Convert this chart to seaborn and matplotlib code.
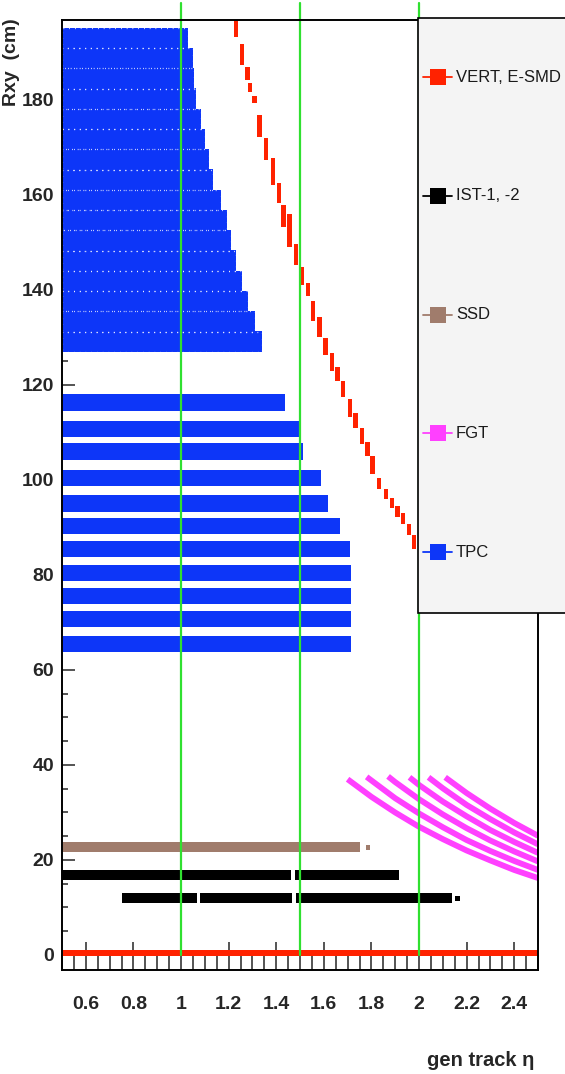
import matplotlib
matplotlib.use("Agg")
import matplotlib.pyplot as plt
import matplotlib.ticker as mticker
from matplotlib.lines import Line2D
from matplotlib.patches import Rectangle
import numpy as np
import pandas as pd
import seaborn as sns

# ---------------- data ----------------
eta_min = 0.5

# TPC outer padrows: radius centre and eta reach
tpc_outer_r = [129.13, 133.39, 137.66, 141.92, 146.18, 150.44, 154.71, 158.97,
               163.23, 167.49, 171.76, 176.02, 180.28, 184.54, 188.81, 193.07]
tpc_outer_eta_max = [1.341, 1.31, 1.28, 1.255, 1.232, 1.21, 1.195, 1.17,
                     1.135, 1.118, 1.10, 1.085, 1.065, 1.055, 1.05, 1.03]
# TPC inner padrows
tpc_inner_r = [116.3, 110.7, 106.0, 100.35, 95.05, 90.35, 85.45, 80.5, 75.6, 70.7, 65.45]
tpc_inner_eta_max = [1.435, 1.498, 1.512, 1.589, 1.617, 1.666, 1.708, 1.715, 1.715, 1.715, 1.715]

# E-SMD hits (eta, R low, R high)
esmd_eta = [1.232, 1.257, 1.280, 1.291, 1.309, 1.330, 1.358, 1.386, 1.411, 1.431, 1.456,
            1.484, 1.509, 1.533, 1.554, 1.582, 1.607, 1.635, 1.658, 1.682, 1.710, 1.733,
            1.761, 1.784, 1.805, 1.833, 1.861, 1.886, 1.910, 1.934, 1.959, 1.980]
esmd_rlo = [193.3, 187.3, 184.3, 181.7, 179.4, 172.3, 167.4, 162.1, 158.3, 153.2, 149.0,
            145.3, 141.0, 138.7, 133.5, 130.1, 126.4, 123.0, 120.8, 117.4, 113.3, 110.9,
            107.6, 105.0, 101.2, 98.2, 96.0, 94.1, 92.2, 90.7, 88.4, 85.5]
esmd_rhi = [196.9, 191.8, 186.9, 183.5, 180.9, 176.8, 171.9, 167.8, 162.5, 157.8, 156.0,
            149.7, 144.8, 141.5, 137.7, 134.3, 129.8, 126.8, 123.8, 120.8, 117.0, 114.0,
            110.9, 108.0, 105.0, 100.4, 98.2, 96.3, 94.5, 93.0, 90.7, 88.4]

# vertex hits at R ~ 0
vert_eta = [0.5, 2.5]
vert_r = [0.35, 0.35]

# SSD band
ssd_eta = [0.5, 1.75]
ssd_r = 22.8
ssd_dot = (1.785, 22.6)

# IST bands (segments)
ist2_segments = [(0.50, 1.463), (1.478, 1.917)]
ist2_r = 16.85
ist1_segments = [(0.75, 1.066), (1.080, 1.468), (1.484, 2.140)]
ist1_r = 11.95
ist1_dot = (2.162, 11.9)

# FGT disk stripes: (eta, R) samples
fgt_stripes = {
    1: ([1.70, 1.80, 1.90, 2.00, 2.10, 2.20, 2.30, 2.40, 2.50],
        [37.0, 33.3, 30.0, 27.0, 24.4, 22.0, 19.9, 17.9, 16.2]),
    2: ([1.78, 1.90, 2.00, 2.10, 2.20, 2.30, 2.40, 2.50],
        [37.5, 33.0, 29.8, 26.9, 24.2, 21.9, 19.8, 17.9]),
    3: ([1.87, 1.90, 2.00, 2.10, 2.20, 2.30, 2.40, 2.50],
        [37.6, 36.4, 32.8, 29.6, 26.7, 24.1, 21.8, 19.7]),
    4: ([1.96, 2.00, 2.10, 2.20, 2.30, 2.40, 2.50],
        [37.4, 35.8, 32.3, 29.2, 26.3, 23.8, 21.5]),
    5: ([2.04, 2.10, 2.20, 2.30, 2.40, 2.50],
        [37.4, 35.1, 31.6, 28.6, 25.8, 23.3]),
    6: ([2.11, 2.20, 2.30, 2.40, 2.50],
        [37.4, 34.1, 30.8, 27.8, 25.1]),
}

# guide lines
green_eta = [1.0, 1.5, 2.0]

# axis ticks
x_major = [0.6, 0.8, 1.0, 1.2, 1.4, 1.6, 1.8, 2.0, 2.2, 2.4]
x_labels = ["0.6", "0.8", "1", "1.2", "1.4", "1.6", "1.8", "2", "2.2", "2.4"]
y_major = [0, 20, 40, 60, 80, 100, 120, 140, 160, 180]
y_labels = [str(v) for v in y_major]

legend_labels = ["VERT, E-SMD", "IST-1, -2", "SSD", "FGT", "TPC"]

# colours
c_red = "#ff2200"
c_black = "#000000"
c_brown = "#a07c6c"
c_mag = "#ff40ff"
c_blue = "#0d36f8"
c_green = "#30e030"
legend_colors = [c_red, c_black, c_brown, c_mag, c_blue]

# ---------------- figure ----------------
sns.set_theme(style="ticks")
plt.rcParams["font.family"] = ["Liberation Sans", "DejaVu Sans"]

W, H = 565, 1074
fig = plt.figure(figsize=(W / 100, H / 100), dpi=100)
ax = fig.add_axes([62 / W, 1 - 970 / H, 476 / W, 950 / H])
ax.set_xlim(0.5, 2.5)
ax.set_ylim(-3.16, 196.84)

# TPC
ax.barh(tpc_outer_r, [m - eta_min for m in tpc_outer_eta_max], left=eta_min,
        height=4.3, color=c_blue, linewidth=0, zorder=2)
ax.barh(tpc_outer_r, [m - eta_min for m in tpc_outer_eta_max], left=eta_min,
        height=4.26, fill=False, edgecolor="white", linewidth=0.9,
        linestyle=(0, (0.6, 4)), zorder=2.1)
ax.barh(tpc_inner_r, [m - eta_min for m in tpc_inner_eta_max], left=eta_min,
        height=3.4, color=c_blue, linewidth=0, zorder=2)

# E-SMD
ax.bar(esmd_eta, [h - l for h, l in zip(esmd_rhi, esmd_rlo)], bottom=esmd_rlo,
       width=0.018, color=c_red, linewidth=0, zorder=3)

# vertex
ax.barh([vert_r[0]], [vert_eta[1] - vert_eta[0]], left=vert_eta[0], height=1.2,
        color=c_red, linewidth=0, zorder=3)

# SSD
ax.barh([ssd_r], [ssd_eta[1] - ssd_eta[0]], left=ssd_eta[0], height=2.1,
        color=c_brown, linewidth=0, zorder=3)

# IST
for lo, hi in ist2_segments:
    ax.barh([ist2_r], [hi - lo], left=lo, height=2.0, color=c_black, linewidth=0, zorder=3)
for lo, hi in ist1_segments:
    ax.barh([ist1_r], [hi - lo], left=lo, height=2.0, color=c_black, linewidth=0, zorder=3)

dots = pd.DataFrame({"eta": [ssd_dot[0], ist1_dot[0]],
                     "R": [ssd_dot[1], ist1_dot[1]],
                     "det": ["SSD", "IST"]})
sns.scatterplot(data=dots, x="eta", y="R", hue="det",
                palette={"SSD": c_brown, "IST": c_black}, marker="s", s=10,
                linewidth=0, legend=False, ax=ax, zorder=3)

# FGT
fgt_df = pd.concat([pd.DataFrame({"eta": e, "R": r, "disk": k})
                    for k, (e, r) in fgt_stripes.items()], ignore_index=True)
sns.lineplot(data=fgt_df, x="eta", y="R", units="disk", estimator=None,
             sort=False, color=c_mag, lw=4.2, ax=ax, zorder=3, legend=False,
             solid_capstyle="butt")

# green guide lines
for g in green_eta:
    ax.plot([g, g], [0, 200.4], color=c_green, lw=1.6, clip_on=False, zorder=5)

# axes styling
for s in ax.spines.values():
    s.set_linewidth(1.4)
    s.set_color("black")
    s.set_zorder(6)
ax.set_xticks(x_major)
ax.set_xticklabels(x_labels)
ax.set_yticks(y_major)
ax.set_yticklabels(y_labels)
ax.xaxis.set_minor_locator(mticker.MultipleLocator(0.05))
ax.yaxis.set_minor_locator(mticker.MultipleLocator(5))
ax.tick_params(axis="x", which="major", direction="in", length=20, width=1.1,
               pad=19, labelsize=14, top=False, bottom=True)
ax.tick_params(axis="x", which="minor", direction="in", length=10.5, width=1.1,
               top=False, bottom=True)
ax.tick_params(axis="y", which="major", direction="in", length=9, width=1.1,
               pad=5.5, labelsize=14, left=True, right=False)
ax.tick_params(axis="y", which="minor", direction="in", length=4.5, width=1.1,
               left=True, right=False)
for lab in ax.get_xticklabels() + ax.get_yticklabels():
    lab.set_fontweight("bold")

ax.set_xlabel("gen track η", fontsize=14.5, fontweight="bold")
ax.xaxis.set_label_coords((534 - 62) / 476, -(1061 - 970) / 950)
ax.xaxis.label.set_ha("right")
ax.xaxis.label.set_va("center")

ax.set_ylabel("Rxy  (cm)", fontsize=14, fontweight="bold")
ax.yaxis.set_label_coords((12 - 62) / 476, 1.002)
ax.yaxis.label.set_rotation_mode("anchor")
ax.yaxis.label.set_ha("right")
ax.yaxis.label.set_va("center")

# legend box (ROOT style)
fig.add_artist(Rectangle((418 / W, 1 - 613 / H), (W - 418) / W + 0.02, (613 - 18) / H,
                         transform=fig.transFigure, facecolor="#f4f4f4",
                         edgecolor="black", lw=1.2, zorder=10))
for i, (lab, col) in enumerate(zip(legend_labels, legend_colors)):
    yp = 1 - (77 + i * 118.8) / H
    fig.add_artist(Line2D([423 / W, 452 / W], [yp, yp], color=col, lw=1.3,
                          transform=fig.transFigure, zorder=11))
    fig.add_artist(Line2D([437.5 / W], [yp], marker="s", markersize=12,
                          color=col, markeredgewidth=0,
                          transform=fig.transFigure, zorder=12))
    fig.text(456 / W, yp, lab, ha="left", va="center", fontsize=12,
             color="#1a1a1a", zorder=13)

fig.savefig("out.png", dpi=100, facecolor="white")
